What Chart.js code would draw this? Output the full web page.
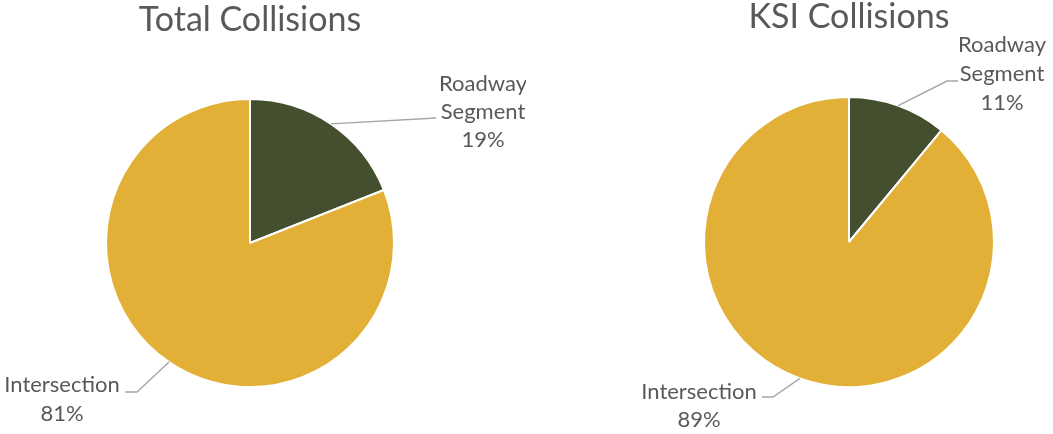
<!DOCTYPE html>
<html>
<head>
<meta charset="utf-8">
<script src="https://cdn.jsdelivr.net/npm/chart.js@4.4.1/dist/chart.umd.min.js"></script>
<style>
  html, body { margin: 0; padding: 0; background: #fff; }
  .wrap { position: relative; width: 1053px; height: 434px; }
  .wrap canvas { position: absolute; top: 0; }
</style>
</head>
<body>
<div class="wrap">
  <canvas id="totalChart" width="526" height="434" style="left:0"></canvas>
  <canvas id="ksiChart" width="527" height="434" style="left:526px"></canvas>
</div>
<script>
const categories = ['Roadway Segment', 'Intersection'];
const labelLines = [['Roadway', 'Segment'], ['Intersection']];
const totalShares = [19, 81];
const ksiShares = [11, 89];
const sliceColors = ['#434F2F', '#E2B036'];

const textColor = '#595959';
const fontFamily = 'Lato, "Open Sans", sans-serif';

// callout label placement, in each canvas' own pixels
const makeCallouts = (items) => ({
  id: 'callouts',
  afterDatasetsDraw(chart) {
    const ctx = chart.ctx;
    const arcs = chart.getDatasetMeta(0).data;
    const values = chart.data.datasets[0].data;
    const total = values.reduce((a, b) => a + b, 0);
    ctx.save();
    items.forEach((item, i) => {
      const p = arcs[i].getProps(['x', 'y', 'startAngle', 'endAngle', 'outerRadius'], true);
      const mid = (p.startAngle + p.endAngle) / 2;
      ctx.beginPath();
      ctx.moveTo(p.x + Math.cos(mid) * p.outerRadius, p.y + Math.sin(mid) * p.outerRadius);
      item.leader.forEach(([x, y]) => ctx.lineTo(x, y));
      ctx.strokeStyle = '#A6A6A6';
      ctx.lineWidth = 1.4;
      ctx.stroke();

      const lines = [...labelLines[i], Math.round(values[i] / total * 100) + '%'];
      ctx.fillStyle = textColor;
      ctx.font = '22px ' + fontFamily;
      ctx.textAlign = 'center';
      ctx.textBaseline = 'alphabetic';
      lines.forEach((t, k) => ctx.fillText(t, item.x, item.y + k * item.lh));
    });
    ctx.restore();
  }
});

const makePie = (id, title, values, pad, titlePad, callouts) => {
  const ctx = document.getElementById(id).getContext('2d');
  return new Chart(ctx, {
    type: 'pie',
    data: {
      labels: categories,
      datasets: [{
        data: values,
        backgroundColor: sliceColors,
        borderColor: '#ffffff',
        borderWidth: 2
      }]
    },
    options: {
      responsive: false,
      animation: false,
      layout: { padding: pad },
      plugins: {
        legend: { display: false },
        tooltip: { enabled: false },
        title: {
          display: true,
          text: title,
          color: textColor,
          font: { family: fontFamily, size: 34, weight: 'normal', lineHeight: 1 },
          padding: titlePad
        }
      }
    },
    plugins: [makeCallouts(callouts)]
  });
};

makePie('totalChart', 'Total Collisions', totalShares,
  { left: 105, right: 131, top: 0, bottom: 46 },
  { top: 3, bottom: 61 },
  [
    { x: 483, y: 91, lh: 28, leader: [[436, 118]] },
    { x: 62, y: 392, lh: 29, leader: [[137, 392], [125, 392]] }
  ]);

makePie('ksiChart', 'KSI Collisions', ksiShares,
  { left: 177, right: 58, top: 0, bottom: 45 },
  { top: 0, bottom: 61 },
  [
    { x: 476, y: 52, lh: 29, leader: [[421, 81], [432, 81]] },
    { x: 173, y: 399, lh: 28, leader: [[247, 397], [236, 397]] }
  ]);
</script>
</body>
</html>
